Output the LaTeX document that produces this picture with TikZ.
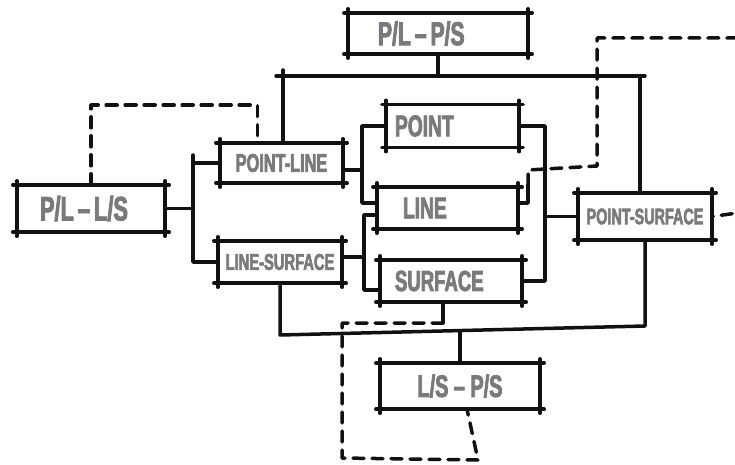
\documentclass[tikz,border=0pt]{standalone}
\usepackage{fontspec}
\newfontfamily\boxfont{Liberation Sans Bold}[FakeStretch=0.64, FakeBold=2.5]
\definecolor{inkc}{HTML}{111111}
\definecolor{labelgray}{HTML}{7A7A7C}
\newcommand{\dashsep}{\hspace{0.12em}–\hspace{0.12em}}

\begin{document}
\begin{tikzpicture}[
    x=1pt, y=-1pt,
    wire/.style={draw=inkc, line width=3.5pt, line cap=round, line join=round},
    dsh/.style={wire, dash pattern=on 11pt off 8pt},
    boxedge/.style={wire, shorten <=-4pt, shorten >=-4pt},
    fs/.style={font={\boxfont\fontsize{#1}{#1}\selectfont}},
    sbox/.style={rectangle, inner sep=0pt, text=labelgray, align=center,
        append after command={
            (\tikzlastnode.north west) edge[boxedge] (\tikzlastnode.north east)
            (\tikzlastnode.north east) edge[boxedge] (\tikzlastnode.south east)
            (\tikzlastnode.south east) edge[boxedge] (\tikzlastnode.south west)
            (\tikzlastnode.south west) edge[boxedge] (\tikzlastnode.north west)}},
]

\fill[white] (0,0) rectangle (735,465);
\useasboundingbox (0,0) rectangle (735,465);
\clip (0,0) rectangle (735,465);

% ================================================================ boxes
\node[sbox, fs=33, text width=120pt, inner xsep=30pt, align=left, minimum height=41pt] (plps) at (438,33.5) {P/L\dashsep P/S};
\node[sbox, fs=34, text width=102pt, inner xsep=23pt, align=left, minimum height=47pt] (plls) at (91,208.5) {P/L\dashsep L/S};
\node[sbox, fs=25.5, minimum width=123pt, minimum height=40pt] (pl) at (281.5,163) {POINT-LINE};
\node[sbox, fs=23, minimum width=124pt, minimum height=42pt] (ls) at (280,262) {LINE-SURFACE};
\node[sbox, fs=30, text width=115pt, inner xsep=9pt, align=left, minimum height=43pt] (pt) at (452.5,126) {POINT};
\node[sbox, fs=30, text width=89pt, inner xsep=26pt, align=left, minimum height=42pt] (ln) at (447.5,208) {LINE};
\node[sbox, fs=29, text width=112pt, inner xsep=15pt, align=left, minimum height=42pt] (sf) at (451,281) {SURFACE};
\node[sbox, fs=22.5, minimum width=134pt, minimum height=47pt] (ps) at (645,216.5) {POINT-SURFACE};
\node[sbox, fs=31, minimum width=160pt, minimum height=46pt] (lsps) at (460,386) {L/S – P/S};

% ================================================================ bus points
\coordinate (topL) at (283,76);
\coordinate (topR) at (640,76);
\coordinate (lbus) at (193,155);
\coordinate (mbusA) at (362,127);
\coordinate (mbusB) at (364,215);
\coordinate (rbus) at (545,126);
\coordinate (botR) at (645,326);
\coordinate (botL) at (280,335);
\coordinate (botM) at (460,331);
\coordinate (plout) at ([yshift=-7pt]pl.east);
\coordinate (lsout) at ([yshift=5pt]ls.east);
\coordinate (lninA) at ([yshift=5pt]ln.west);
\coordinate (lninB) at ([yshift=-7pt]ln.west);
\coordinate (sfin) at ([yshift=-9pt]sf.west);
\coordinate (lnout) at ([yshift=5pt]ln.east);
\coordinate (sfout) at ([xshift=-8pt]sf.south);
\coordinate (lspsin) at ([xshift=7pt]lsps.south);
\coordinate (pltop) at ([xshift=-24pt]pl.north);
\coordinate (dTL) at (94,105);
\coordinate (hook) at (528,185);
\coordinate (dR1) at (528,170);
\coordinate (dR2) at (597,166);
\coordinate (dR3) at (597,38);
\coordinate (dR4) at (737,38);
\coordinate (dR5) at (737,213);
\coordinate (dB2) at (342,323);
\coordinate (dB3) at (342,458);
\coordinate (dB4) at (478,460);

% ================================================================ top bus
\draw[wire] (plps.south) -- (plps.south |- topL);
\draw[wire, shorten <=-7pt, shorten >=-5pt] (topL) -- (topR);
\draw[wire, shorten >=-6pt] (pl.north -| topL) -- (topL);
\draw[wire] (topR) -- (ps.north -| topR);

% left fork
\draw[wire] (plls.east) -- (plls.east -| lbus);
\draw[wire] (lbus) -- (ls.west -| lbus) -- (ls.west);
\draw[wire] (pl.west -| lbus) -- (pl.west);

% middle forks
\draw[wire] (plout) -- (plout -| mbusA);
\draw[wire] (pt.west) -- (pt.west -| mbusA) -- (lninA -| mbusA) -- (lninA);
\draw[wire] (lsout) -- (lsout -| mbusB);
\draw[wire] (lninB) -- (lninB -| mbusB) -- (sfin -| mbusB) -- (sfin);

% right fork
\draw[wire] (pt.east) -- (pt.east -| rbus) -- (sf.east -| rbus) -- (sf.east);
\draw[wire] (ps.west -| rbus) -- (ps.west);

% bottom bus
\draw[wire] (ps.south) -- (botR) -- (botL) -- (ls.south);
\draw[wire] (botM) -- (lsps.north);

% dashed returns
\draw[wire] (sfout) -- (sfout |- dB2);
\draw[dsh] (sfout |- dB2) -- (dB2) -- (dB3) -- (dB4) -- (lspsin);
\draw[dsh] (plls.north) -- (plls.north |- dTL) -- (pltop |- dTL) -- (pltop);
\draw[wire] (lnout) -- (lnout -| hook) -- (hook);
\draw[dsh] (hook) -- (dR1) -- (dR2) -- (dR3) -- (dR4) -- (dR5) -- (ps.east);

\end{tikzpicture}
\end{document}
